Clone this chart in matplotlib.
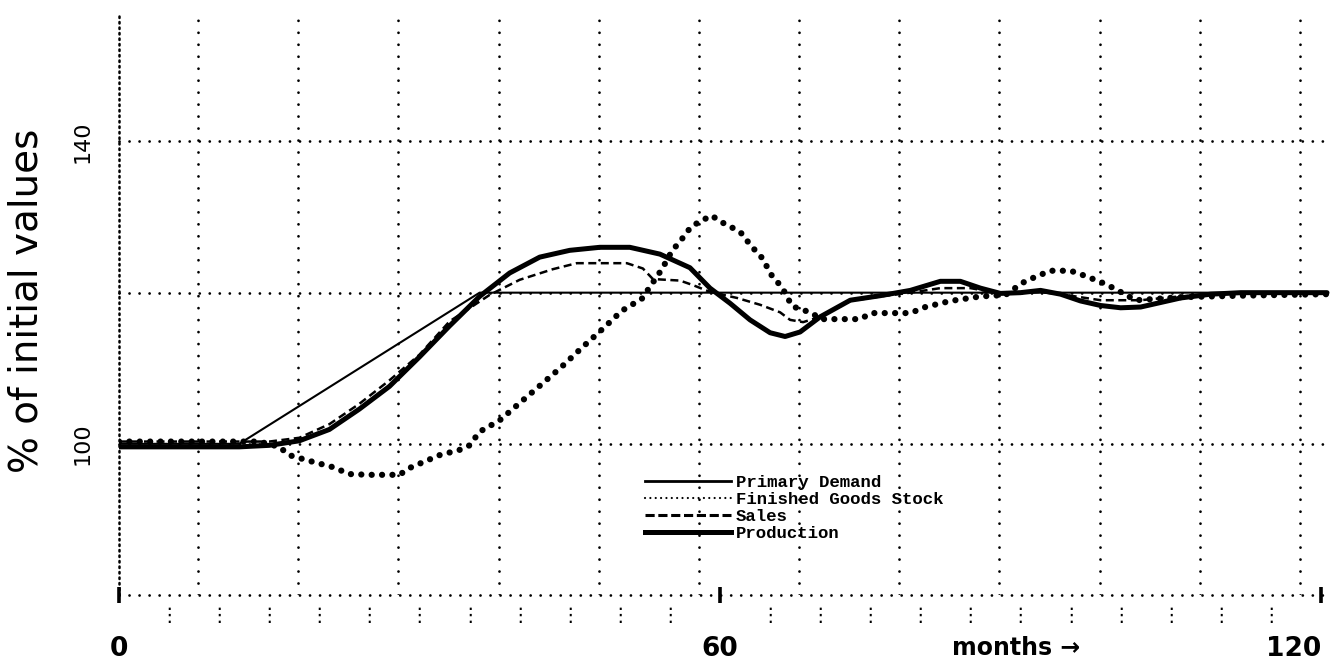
"""
Production-distribution response to a 20% ramp in primary demand.
"""

import numpy as np
import matplotlib.pyplot as plt
from matplotlib.lines import Line2D

# ---- data (months, % of initial values) ----
demand_months = [0, 12, 36, 120.6]
primary_demand = [100, 100, 120, 120]

production_months = [0, 12, 15, 18, 21, 24, 27, 30, 33, 36, 39, 42, 45, 48, 51, 54,
                     57, 59, 61, 63, 65, 66.5, 68, 70, 73, 76, 79, 82, 84, 86, 88,
                     90, 92, 94, 96, 98, 100, 102, 104, 106, 109, 112, 120.6]
production = [99.6, 99.6, 99.8, 100.4, 101.9, 104.6, 107.6, 111.5, 115.6, 119.5,
              122.6, 124.7, 125.6, 126.0, 126.0, 125.1, 123.3, 120.6, 118.6, 116.4,
              114.7, 114.2, 114.8, 116.8, 119.0, 119.6, 120.3, 121.5, 121.5, 120.6,
              119.9, 120.0, 120.3, 119.8, 118.9, 118.3, 118.0, 118.1, 118.7, 119.3,
              119.8, 120.0, 120.0]

sales_months = [0, 15, 18, 21, 24, 27, 30, 33, 37, 40, 43.3, 45.7, 50.7, 52.3, 53.3,
                56, 57.3, 59, 61.7, 64, 66, 67, 68.3, 70, 73, 76, 79, 82, 85, 88,
                92, 95, 98, 102, 105, 108, 112, 120.6]
sales = [100.3, 100.3, 100.8, 102.6, 105.3, 108.4, 111.8, 116.2, 119.7, 121.7,
         123.1, 123.9, 123.9, 123.2, 121.8, 121.6, 121.0, 120.1, 119.3, 118.4,
         117.4, 116.4, 116.1, 116.8, 118.9, 119.5, 120.0, 120.6, 120.6, 119.9,
         120.1, 119.6, 119.0, 119.0, 119.4, 119.7, 119.9, 120.0]

stock_months = [0, 14, 16, 17, 19.4, 21.4, 23, 25, 28, 29, 32, 34, 35, 36, 38, 40,
                42.2, 44.2, 46.2, 48.2, 50.2, 52.2, 54.2, 55.2, 56.2, 57.1, 58.1,
                59.2, 59.9, 61.1, 62.1, 63.1, 64.2, 65.2, 66.2, 67.2, 69.2, 70, 74,
                75.1, 79, 80.5, 83, 86, 88.5, 90.2, 91.5, 93, 95, 96.5, 98.2, 99.3,
                101.5, 106, 112, 120.6]
finished_goods_stock = [100.3, 100.3, 99.6, 98.5, 97.6, 96.9, 96.0, 95.9, 95.9, 96.8,
                        98.5, 99.2, 99.8, 101.6, 103.1, 105.4, 107.9, 110.2, 112.7,
                        115.1, 117.6, 119.2, 123.1, 125.5, 127.1, 128.7, 129.5, 130.2,
                        129.5, 128.7, 127.9, 126.2, 124.6, 122.2, 120.7, 118.2, 117.3,
                        116.5, 116.5, 117.3, 117.3, 118.1, 118.9, 119.5, 119.7, 121.3,
                        122.1, 122.9, 122.9, 122.2, 121.3, 120.6, 119.0, 119.4, 119.6,
                        119.8]

# printout grid (columns of the line printer are offset from the month scale)
grid_months = np.arange(7.9, 121, 10.0)
grid_values = [80, 100, 120, 140]
month_labels = [0, 60, 120]
value_labels = [100, 140]
column_marks = [m for m in range(5, 120, 5) if m != 60]

HAND = "DejaVu Sans"
TYPE = "Liberation Mono"

fig = plt.figure(figsize=(13.38, 6.62), dpi=100)
ax = fig.add_axes([119 / 1338, 67 / 662, 1211 / 1338, 582 / 662])
ax.set_xlim(0, 120.9)
ax.set_ylim(80, 157)

for gx in grid_months:
    ax.axvline(gx, color="k", lw=2.0, linestyle=(0, (0.01, 4.3)),
               dash_capstyle="round", zorder=1)
for gy in grid_values:
    ax.axhline(gy, color="k", lw=2.0, linestyle=(0, (0.01, 3.6)),
               dash_capstyle="round", zorder=1, clip_on=False)

ax.plot(demand_months, primary_demand, color="k", lw=1.5, zorder=3)
ax.plot(stock_months, finished_goods_stock, color="k", lw=4.5,
        linestyle=(0, (0.01, 1.65)), dash_capstyle="round", zorder=4)
ax.plot(sales_months, sales, color="k", lw=1.8, linestyle=(0, (3.2, 1.8)), zorder=4)
ax.plot(production_months, production, color="k", lw=3.6,
        solid_capstyle="round", zorder=5)

handles = [
    Line2D([], [], color="k", lw=2.0),
    Line2D([], [], color="k", lw=1.6, linestyle=(0, (0.01, 2.4)), dash_capstyle="round"),
    Line2D([], [], color="k", lw=2.2, linestyle=(0, (3.0, 1.2))),
    Line2D([], [], color="k", lw=3.6),
]
labels = ["Primary Demand", "Finished Goods Stock", "Sales", "Production"]
ax.legend(handles, labels, loc="upper left", bbox_to_anchor=(0.434, 0.206),
          frameon=False, borderpad=0, borderaxespad=0, handlelength=5.0,
          handletextpad=0.25, labelspacing=0.1,
          prop={"family": TYPE, "weight": "bold", "size": 12.5})

for side in ["top", "right", "bottom"]:
    ax.spines[side].set_visible(False)
ax.spines["left"].set_linestyle((0, (0.6, 1.6)))
ax.spines["left"].set_linewidth(1.8)
ax.spines["left"].set_capstyle("round")

ax.set_xticks(month_labels)
ax.set_xticklabels([str(m) for m in month_labels], family=HAND, fontweight="bold",
                   fontsize=19)
ax.get_xticklabels()[-1].set_horizontalalignment("right")
ax.tick_params(axis="x", which="major", direction="inout", length=11, width=2.6,
               pad=24)
ax.set_xticks(column_marks, minor=True)
ax.set_xticklabels(["\u22ee"] * len(column_marks), minor=True, fontsize=14)
ax.tick_params(axis="x", which="minor", length=0, pad=8)

ax.set_yticks(value_labels)
ax.set_yticklabels([str(v) for v in value_labels], rotation=90, va="center",
                   family=HAND, fontsize=16)
ax.tick_params(axis="y", length=0, pad=19)

fig.text(27 / 1338, 1 - 301 / 662, "% of initial values", rotation=90,
         ha="center", va="center", family=HAND, fontsize=28)
fig.text(1016 / 1338, 1 - 648 / 662, "months \u2192", ha="center", va="center",
         family=HAND, fontweight="bold", fontsize=17)

fig.savefig("out.png", dpi=100)
